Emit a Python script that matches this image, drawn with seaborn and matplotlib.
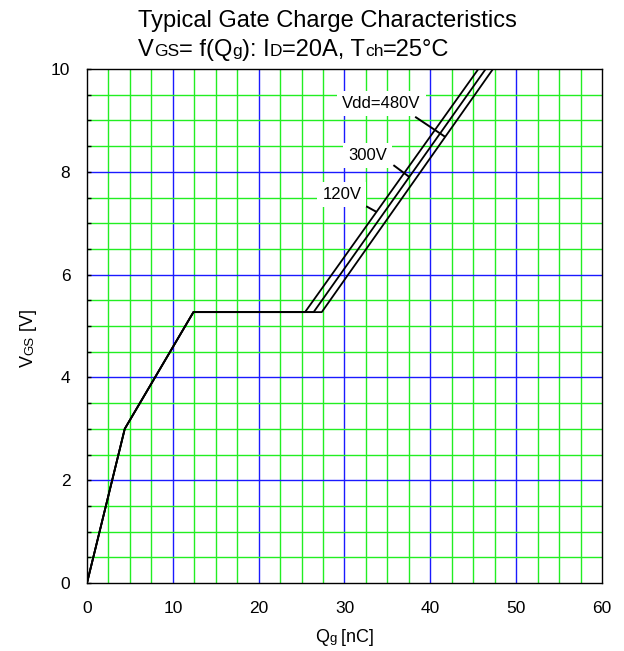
import numpy as np
import pandas as pd
import matplotlib
matplotlib.use("Agg")
import matplotlib.pyplot as plt
import seaborn as sns

# ---------------- data ----------------
vdd_labels = ["120V", "300V", "480V"]
common_q = [0.0, 4.4, 12.4]          # nC  (shared rising part)
common_v = [0.0, 3.0, 5.27]          # V
plateau_end_q = [25.4, 26.4, 27.35]  # nC  end of Miller plateau per Vdd
top_q = [45.6, 46.45, 47.3]          # nC  where VGS reaches 10 V
top_v = 10.0

label_text = ["120V", "300V", "Vdd=480V"]
label_q = [29.7, 32.7, 34.3]
label_v = [7.56, 8.32, 9.33]
leader_v = [7.22, 7.90, 8.68]        # VGS where leader touches the curve
leader_dq = [-1.2, -1.85, -3.5]
leader_dv = [0.11, 0.23, 0.39]

x_ticks = [0, 10, 20, 30, 40, 50, 60]
y_ticks = [0, 2, 4, 6, 8, 10]

rows = []
for lab, pe, tq in zip(vdd_labels, plateau_end_q, top_q):
    qs = common_q + [pe, tq]
    vs = common_v + [common_v[-1], top_v]
    for i, (q, v) in enumerate(zip(qs, vs)):
        rows.append({"Vdd": lab, "Qg": q, "VGS": v, "order": i})
df = pd.DataFrame(rows)

# ---------------- style ----------------
sns.set_theme(style="white")
plt.rcParams["font.family"] = ["Liberation Sans", "DejaVu Sans"]
plt.rcParams["text.color"] = "black"
plt.rcParams["xtick.color"] = "black"
plt.rcParams["ytick.color"] = "black"

W, H = 624, 651
fig = plt.figure(figsize=(W / 100, H / 100), dpi=100)
ax = fig.add_axes([87 / W, 68 / H, 515 / W, 514 / H])

GREEN = "#22ee22"
BLUE = "#1a1aff"

# grid
for x in np.arange(2.5, 60, 2.5):
    major = abs(x % 10) < 1e-9
    ax.axvline(x, color=BLUE if major else GREEN, lw=1.0, zorder=0.5)
for y in np.arange(0.5, 10, 0.5):
    major = abs(y % 2) < 1e-9
    ax.axhline(y, color=BLUE if major else GREEN, lw=1.0, zorder=0.5)

sns.lineplot(data=df, x="Qg", y="VGS", hue="Vdd", units="Vdd", estimator=None,
             sort=False, palette=["black"] * 3, legend=False, lw=1.3, ax=ax,
             zorder=3)

# labels with leaders
for lab, txt, lq, lv, yv, dq, dv in zip(vdd_labels, label_text, label_q, label_v,
                                        leader_v, leader_dq, leader_dv):
    sub = df[df["Vdd"] == lab]
    qs = sub["Qg"].to_numpy()[3:]
    vs = sub["VGS"].to_numpy()[3:]
    xq = np.interp(yv, vs, qs)
    ax.plot([xq + dq, xq], [yv + dv, yv], color="black", lw=1.4, zorder=4,
            solid_capstyle="butt")
    ax.text(lq, lv, txt, ha="center", va="center", fontsize=12, zorder=5,
            color="black",
            bbox=dict(boxstyle="square,pad=0.3", fc="white", ec="none"))

ax.set_xlim(0, 60)
ax.set_ylim(0, 10)
ax.set_xticks(x_ticks)
ax.set_yticks(y_ticks)
ax.set_xticklabels([str(v) for v in x_ticks])
ax.set_yticklabels([str(v) for v in y_ticks])
ax.set_yticks(np.arange(0, 10.01, 0.5), minor=True)
ax.tick_params(axis="y", which="both", direction="in", length=3, width=1,
               color="black", labelcolor="black", left=True, labelsize=12.5,
               pad=12)
ax.tick_params(axis="x", which="both", length=0, labelsize=12.5, pad=13,
               labelcolor="black")
ax.set_xlabel("")
ax.set_ylabel("")
for s in ax.spines.values():
    s.set_color("black")
    s.set_linewidth(1.0)
    s.set_visible(True)


# ---------------- chained texts with small letters ----------------
renderer = fig.canvas.get_renderer()


def chain(pieces, x, y, rotation=0):
    """pieces: list of (string, fontsize). x, y in figure pixels (baseline start)."""
    for s, size in pieces:
        t = fig.text(x / W, y / H, s, fontsize=size, rotation=rotation,
                     rotation_mode="anchor", ha="left", va="baseline",
                     color="black")
        bb = t.get_window_extent(renderer)
        if rotation == 0:
            x += bb.width
        else:
            y += bb.height


BIG = 17
SM = 12.5
chain([("Typical Gate Charge Characteristics", BIG)], 138, H - 27)
chain([("V", BIG), ("GS", SM), ("= f(Q", BIG), ("g", SM), ("): I", BIG),
       ("D", SM), ("=20A, T", BIG), ("ch", SM), ("=25°C", BIG)], 138, H - 56)

# x label  "Qg [nC]"
chain([("Q", 13), ("g", 9.5), (" [nC]", 13)], 315, H - 642)
# y label  "VGS [V]" rotated
chain([("V", 13), ("GS", 9.5), (" [V]", 13)], 33, H - 367, rotation=90)

fig.savefig("out.png", dpi=100)
